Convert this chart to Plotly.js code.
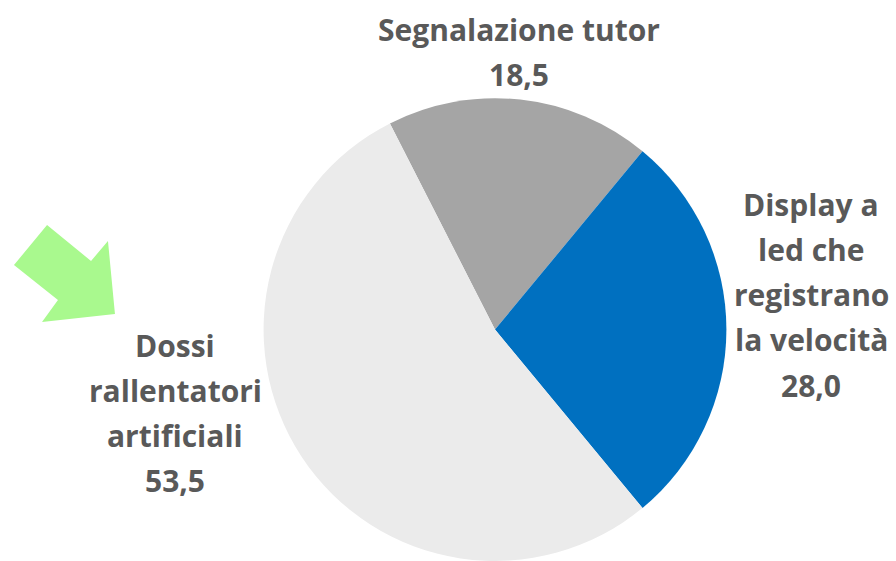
<!DOCTYPE html>
<html><head><meta charset="utf-8">
<script src="https://cdn.plot.ly/plotly-3.0.1.min.js"></script>
<style>html,body{margin:0;padding:0;background:#fff}#c{width:896px;height:561px}</style>
</head><body><div id="c"></div>
<script>
const categories = ["Segnalazione tutor", "Display a led che registrano la velocità", "Dossi rallentatori artificiali"];
const values = [18.5, 28.0, 53.5];
const labelLines = [["Segnalazione tutor", "18,5"], ["Display a", "led che", "registrano", "la velocità", "28,0"], ["Dossi", "rallentatori", "artificiali", "53,5"]];
const colors = ["#A5A5A5", "#0070C0", "#EBEBEB"];

const W = 896, H = 561;
const px = x => x / W, py = y => 1 - y / H;
const labelPos = [{x: 519, y: 29}, {x: 811, y: 204}, {x: 175, y: 345}];
const lineGap = 45.3;

const annotations = [];
labelLines.forEach((lines, i) => {
  lines.forEach((t, j) => {
    annotations.push({
      xref: 'paper', yref: 'paper', x: px(labelPos[i].x), y: py(labelPos[i].y + j * lineGap),
      xanchor: 'center', yanchor: 'middle', showarrow: false, text: '<b>' + t + '</b>',
      font: {family: '"Open Sans", Lato, sans-serif', size: 30, color: '#595959'}
    });
  });
});

const arrowPts = [[14,265],[47,225],[91,261],[108,241],[115,314],[42,322],[58,300]];
const arrowPath = 'M' + arrowPts.map(p => px(p[0]).toFixed(4) + ',' + py(p[1]).toFixed(4)).join(' L') + ' Z';

Plotly.newPlot('c', [{
  type: 'pie', labels: categories, values: values, sort: false, direction: 'clockwise', rotation: -27,
  marker: {colors: colors, line: {width: 0}}, textinfo: 'none', hoverinfo: 'label+value',
  domain: {x: [263 / W, 727 / W], y: [0, 0.825]}, showlegend: false
}], {
  width: W, height: H, margin: {l: 0, r: 0, t: 0, b: 0},
  paper_bgcolor: '#fff', plot_bgcolor: '#fff', showlegend: false,
  annotations: annotations,
  shapes: [{type: 'path', xref: 'paper', yref: 'paper', path: arrowPath, fillcolor: '#A9F98E', line: {width: 0}}]
}, {displayModeBar: false, staticPlot: true});
</script></body></html>
